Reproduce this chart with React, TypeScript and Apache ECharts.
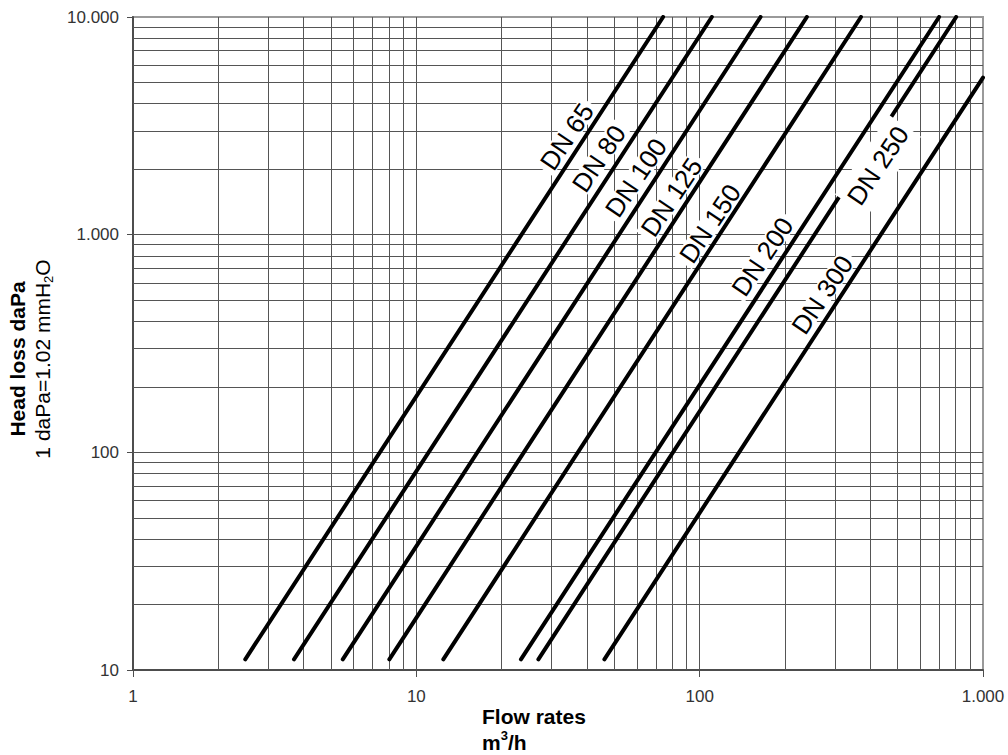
import React, { useEffect, useRef } from 'react';
import * as echarts from 'echarts';

const FONT = '"Liberation Sans", Arial, Helvetica, sans-serif';

// Pipe sizes
const dnNames = ['DN 65', 'DN 80', 'DN 100', 'DN 125', 'DN 150', 'DN 200', 'DN 250', 'DN 300'];
// Start point of each curve (flow m3/h, head loss daPa)
const startFlow = [2.49, 3.7, 5.5, 8.03, 12.45, 23.4, 26.96, 46.1];
const startHead = [11.2, 11.2, 11.2, 11.2, 11.2, 11.2, 11.2, 11.2];
// End point of each curve
const endFlow = [74.3, 110.4, 164, 239, 371, 700, 804, 1000];
const endHead = [10000, 10000, 10000, 10000, 10000, 10000, 10000, 5270];

// Label anchors along each curve (data coordinates)
const labelFlow = [34.0, 44.1, 59.6, 79.6, 108.8, 166.6, 426, 271];
const labelHead = [2822, 2236, 1828, 1487, 1124, 792, 2076, 530];

// Log grid lines
const xGridValues = [2, 3, 4, 5, 6, 7, 8, 9, 10, 20, 30, 40, 50, 60, 70, 80, 90, 100, 200, 300, 400, 500, 600, 700, 800, 900];
const yGridValues = [20, 30, 40, 50, 60, 70, 80, 90, 100, 200, 300, 400, 500, 600, 700, 800, 900, 1000, 2000, 3000, 4000, 5000, 6000, 7000, 8000, 9000];

const fmt = (v: number) => {
  const n = Math.round(v);
  return n >= 1000 ? String(n).replace(/\B(?=(\d{3})+(?!\d))/g, '.') : String(n);
};

export default function App() {
  const ref = useRef<HTMLDivElement>(null);
  useEffect(() => {
    if (!ref.current) return;
    const chart = echarts.init(ref.current, undefined, { renderer: 'svg' });
    const axisCommon = {
      type: 'log' as const,
      logBase: 10,
      axisLine: { show: true, onZero: false, lineStyle: { color: '#4d4d4d', width: 2 } },
      axisTick: { show: true, lineStyle: { color: '#4d4d4d', width: 1 } },
      splitLine: { show: false },
      minorTick: { show: false },
    };
    const option: any = {
      animation: false,
      grid: {
        left: 133, top: 17, width: 850, height: 653,
        show: true, borderColor: '#9a9a9a', borderWidth: 2, backgroundColor: 'transparent',
      },
      xAxis: {
        ...axisCommon,
        min: 1, max: 1000,
        axisTick: { ...axisCommon.axisTick, length: 7 },
        axisLabel: { margin: 18, fontSize: 17, color: '#333', fontFamily: FONT, formatter: fmt },
      },
      yAxis: {
        ...axisCommon,
        min: 10, max: 10000,
        axisTick: { ...axisCommon.axisTick, length: 6 },
        axisLabel: { margin: 14, fontSize: 17, color: '#333', fontFamily: FONT, formatter: fmt },
      },
      series: [
        {
          type: 'line',
          data: [[1, 10]],
          symbol: 'none',
          silent: true,
          z: 1,
          lineStyle: { opacity: 0 },
          markLine: {
            silent: true,
            z: 1,
            symbol: ['none', 'none'],
            label: { show: false },
            emphasis: { disabled: true },
            lineStyle: { color: '#555', width: 1, type: 'solid' },
            data: [
              ...xGridValues.map((v) => ({ xAxis: v })),
              ...yGridValues.map((v) => ({ yAxis: v })),
            ],
          },
        },
        ...dnNames.map((name, i) => ({
          name,
          type: 'line',
          z: 3,
          symbol: 'none',
          silent: true,
          clip: true,
          lineStyle: { color: '#000', width: 4, cap: 'round' },
          data: [
            [startFlow[i], startHead[i]],
            [endFlow[i], endHead[i]],
          ],
        })),
      ],
    };
    chart.setOption(option);

    const labels = dnNames.map((name, i) => {
      const p = chart.convertToPixel({ gridIndex: 0 }, [labelFlow[i], labelHead[i]]) as number[];
      const padV = name === 'DN 250' ? 9 : 0;
      return {
        type: 'text',
        x: p[0],
        y: p[1],
        rotation: (56 * Math.PI) / 180,
        z: 100,
        style: {
          text: name,
          fontSize: 26,
          lineHeight: 21,
          fontFamily: FONT,
          fill: '#000',
          align: 'center',
          verticalAlign: 'middle',
          backgroundColor: '#fff',
          padding: [padV, 4, padV, 4],
        },
      };
    });

    chart.setOption({
      graphic: [
        ...labels,
        {
          type: 'text',
          x: 29.5,
          y: 359,
          rotation: Math.PI / 2,
          z: 100,
          style: {
            text: '{b|Head loss daPa}\n{n|1 daPa=1.02 mmH}{s|2}{n|O}',
            align: 'center',
            verticalAlign: 'middle',
            rich: {
              b: { fontSize: 21, fontWeight: 'bold', fontFamily: FONT, fill: '#000', lineHeight: 25 },
              n: { fontSize: 21, fontFamily: FONT, fill: '#000', lineHeight: 25 },
              s: { fontSize: 13, fontFamily: FONT, fill: '#000', lineHeight: 25, verticalAlign: 'bottom' },
            },
          },
        },
        {
          type: 'text',
          x: 482,
          y: 703,
          z: 100,
          style: {
            text: '{b|Flow rates}\n{b|m}{p|3}{b|/h}',
            align: 'left',
            verticalAlign: 'top',
            rich: {
              b: { fontSize: 21, fontWeight: 'bold', fontFamily: FONT, fill: '#000', lineHeight: 26 },
              p: { fontSize: 13, fontWeight: 'bold', fontFamily: FONT, fill: '#000', lineHeight: 26, verticalAlign: 'top' },
            },
          },
        },
      ],
    });

    return () => chart.dispose();
  }, []);
  return <div ref={ref} style={{ position: 'absolute', left: 0, top: 0, width: 1008, height: 755 }} />;
}
